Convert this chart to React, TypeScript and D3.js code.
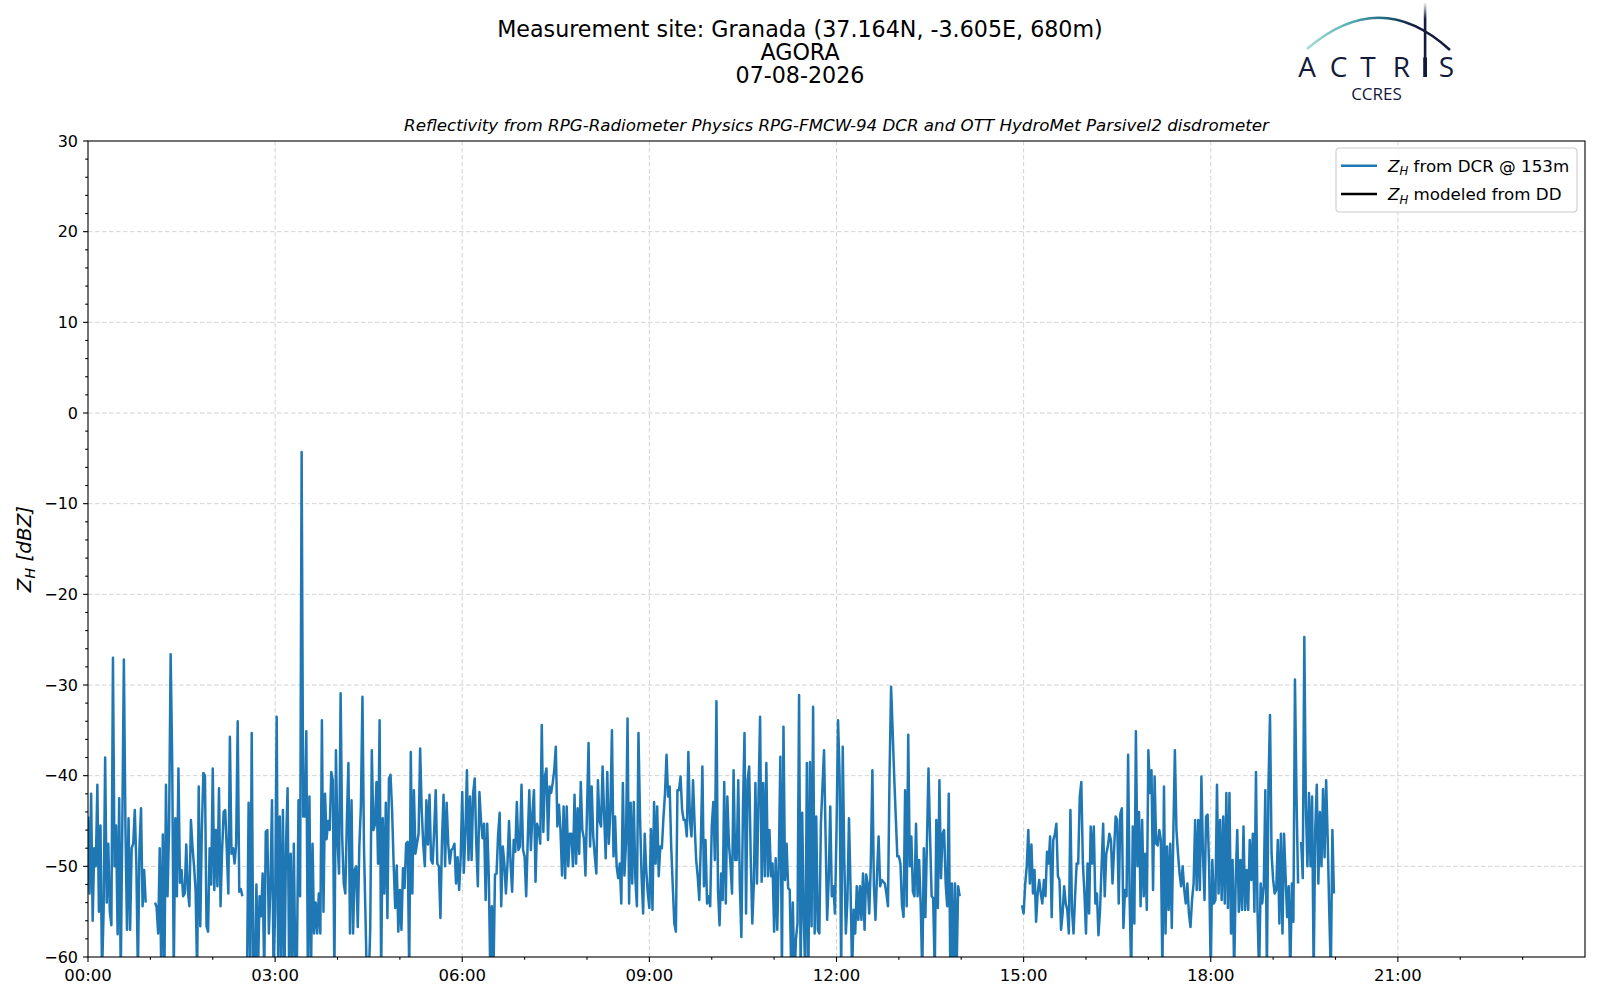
import * as d3 from "d3";
import { useEffect, useRef } from "react";

// DCR reflectivity at 153 m, one value every 90 s, null = no data
const STEP_SEC = 90;
const DAY = "2026-08-07";

const zh00to04 = [
  // 00h
  -44.5, -53, -42, -56, -48, -50, -41, -55, -45.5, -62, -55, -38, -54, -47.5, -55, -56.5, -27, -50, -45.5, -57.5,
  -42.5, -62, -45.5, -27.2, -45.5, -57, -44.7, -57, -48, -47.5, -43.8, -49.7, -62, -48, -43.6, -54.4, -50.4, -54, null, null,
  // 01h
  null, null, null, -54, -54.5, -57.4, -48, -62, -46.5, -62, -41, -53.3, -45.6, -26.6, -38.5, -62, -44.7, -53.3, -39.2, -51.8,
  -50.4, -53.3, -53, -47.6, -52.6, -54.4, -44.9, -47.8, -50, -52.6, -62, -41.2, -56.6, -46, -39.7, -40, -56.6, -57.2, -48, -52,
  // 02h
  -39.2, -52.6, -46, -52.2, -41.4, -54.4, -48.2, -44, -43.8, -48.2, -53, -35.7, -48.6, -48, -49.7, -47.5, -34, -52.8, -52.5, -53.3,
  null, null, -62, -43, -62, -35.3, -62, -62, -52, -62, -53.3, -55.5, -50.8, -62, -46.2, -46, -57.4, -52, -42.7, -62,
  // 03h
  -54.8, -33.5, -62, -44.5, -62, -43.8, -62, -47.5, -41.4, -62, -48.6, -62, -47.5, -62, -60, -42.7, -53.3, -4.3, -44.5, -44.5,
  -35.1, -62, -42.3, -62, -47.5, -57.4, -54, -57.4, -53, -57.4, -33.9, -55, -42, -47, -45, -46, -39.6, -40.5, -62, -37.2,
];

const zh04to08 = [
  // 04h
  -47.1, -50.8, -30.9, -46.7, -51.9, -53, -45, -38.6, -57.4, -42.7, -57.4, -50.4, -50, -56.7, -47.8, -43.4, -31.3, -48, -55.9, -64,
  -63, -56.8, -37.2, -46, -45.4, -40.7, -49.7, -33.9, -62, -44.7, -53, -43, -55.7, -40.3, -39.9, -43.8, -49.7, -54.6, -49.9, -57.2,
  // 05h
  -52.6, -57, -50.2, -52.4, -47.5, -47.3, -62, -37.4, -53, -41.6, -48.6, -47.5, -46.4, -37, -43.8, -47.6, -50, -42.7, -47.6, -42.1,
  -49.3, -49.7, -46, -41.6, -49.7, -50, -55.7, -47.1, -42.1, -50, -43, -47.5, -49.7, -48.2, -48, -47.5, -51.9, -49, -52.6, -49,
  // 06h
  -41.8, -50.7, -46.4, -39.4, -49.3, -42.3, -49.3, -41.9, -40.3, -47.5, -52.2, -41.8, -44.9, -46.9, -45.3, -53.7, -45.3, -51, -62, -54.4,
  -62, -50.9, -50.8, -46.5, -44.1, -54.4, -47.8, -49.7, -53, -49.7, -45, -49.7, -52.8, -47.1, -48.4, -42.9, -48.2, -47.8, -41, -48.2,
  // 07h
  -48.9, -53.3, -47.1, -41.6, -48.2, -44.2, -41.6, -51.7, -45.3, -46, -47.5, -34.4, -46.2, -40.1, -39.2, -47.1, -41.2, -41.9, -40.8, -39.4,
  -36.8, -45.6, -43.2, -46, -51, -43.4, -51.3, -43.4, -50, -46.4, -46.4, -50, -42.1, -49.7, -43.6, -48.6, -40.7, -46, -46.9, -51,
];

const zh08to12 = [
  // 08h
  -43.9, -36.4, -47.8, -41.2, -46.7, -48.9, -50.8, -40.5, -45, -45.6, -39, -44.4, -49.1, -39.6, -47.5, -43.9, -35, -48.9, -44.5, -50,
  -51.3, -49.7, -54.1, -40.8, -51, -47.5, -33.7, -54.1, -43, -51.9, -42.9, -51.3, -54.4, -35.3, -44.5, -51.1, -55.2, -46.4, -50.4, -53,
  // 09h
  -54.6, -45.9, -54.8, -42.9, -49.7, -43.4, -51.1, -47.8, -48, -44.7, -42, -37.7, -42.3, -41.2, -47.8, -52.2, -56.3, -57.2, -41.6, -41.6,
  -40.1, -43.8, -44.9, -44.9, -46.7, -37.4, -44.9, -46.7, -40.5, -45.3, -49.3, -51.1, -53.7, -47.5, -39, -52.2, -47.1, -54.1, -53.3, -54.4,
  // 10h
  -45.6, -42.9, -49.3, -31.8, -52.6, -56.5, -50.8, -53.7, -40.7, -54.1, -42.3, -47.5, -49.7, -53, -39.4, -49.3, -49.3, -40.5, -52, -57.8,
  -43.8, -35.3, -55.2, -40.5, -39, -49.1, -56.3, -51.9, -40.8, -51.9, -42.3, -33.5, -51.7, -40.8, -51.1, -38.6, -51.1, -46, -51.1, -49.7,
  // 11h
  -57.2, -49.1, -57, -49.3, -37.9, -62, -34.6, -51.5, -47.5, -52.4, -52.6, -62, -54, -63, -58, -56.3, -31.1, -62, -44.1, -55.9,
  -62, -38.6, -62, -38.5, -56.6, -32.4, -57.4, -44.5, -57, -57.4, -45.3, -41.2, -37.2, -46.7, -55.9, -51.5, -43.4, -53.3, -52.2, -55.2,
];

const zh12to14 = [
  // 12h
  -46.1, -33.9, -40.1, -62, -36.8, -49.3, -57.4, -53.7, -44.7, -52.2, -62, -54.8, -57.4, -52.2, -55.9, -52.2, -55.9, -50.8, -57, -50.9,
  -51.9, -55.2, -49.7, -39.4, -52.2, -55.9, -50.8, -46.7, -52.2, -51.5, -51.7, -51.9, -53, -54.4, -40.1, -30.2, -35, -40.1, -44.5, -48.9,
  // 13h
  -48.9, -49.7, -54.3, -55.6, -41.6, -54.4, -35.5, -50, -46.7, -52.8, -53.3, -45.3, -53.3, -49.3, -54.3, -62, -48, -55.6, -47.3, -39.2,
  -46.7, -53.3, -53.5, -62, -44.9, -54.6, -40.5, -51.3, -46.4, -46, -51.9, -54.4, -42, -62, -51.9, -62, -51.9, -62, -52.2, -53.3,
];

const zh15to20 = [
  -54.3,
  // 15h
  -55.2, -52, -50, -46, -51.9, -47.6, -53, -50.4, -56.1, -53, -51.5, -53, -54.1, -51.5, -53.3, -48.4, -49.7, -46.7, -55.6, -47.1,
  -46.5, -45.3, -51.1, -51.5, -57, -55.2, -52.2, -54.1, -54.8, -57.4, -43.8, -54.8, -57.4, -53.3, -49.7, -49.7, -42.3, -40.7, -49.7, -53,
  // 16h
  -57.4, -49.7, -55.2, -45.6, -49.7, -45.6, -54.1, -53, -57.6, -54.8, -50, -45.3, -53.3, -48.6, -47.8, -46.4, -47.1, -51.9, -48.2, -44.5,
  -44.9, -54.1, -44.2, -43.6, -56.8, -52.6, -53.3, -37.7, -53.7, -62, -45.6, -56.3, -35.1, -50, -44, -54.4, -44.9, -53.3, -48.6, -54.8,
  // 17h
  -37.2, -41.9, -39.4, -52.6, -40.1, -47.5, -47.7, -46, -47.1, -62, -41.2, -57.4, -47.8, -54.8, -47.5, -56.8, -46.4, -37.2, -46, -48.6,
  -50.8, -52.2, -50, -52.6, -54.1, -51.9, -55.2, -56.7, -53.7, -51.9, -44.9, -52.6, -44.9, -52.6, -40.1, -48.6, -53.7, -44.5, -44.3, -50.4,
  // 18h
  -62, -49.3, -54.1, -53.7, -41, -53, -44.9, -53.7, -44.5, -54.1, -41.9, -54.6, -41.9, -57.4, -49.3, -62, -51.5, -46, -55, -49.3,
  -54.8, -45.6, -54.8, -50.4, -54.8, -47.1, -51.5, -46.4, -55, -39.6, -55, -62, -51.9, -54.1, -52.2, -41.6, -62, -41.2, -33.3, -48.6,
  // 19h
  -51.5, -53, -52.6, -47.1, -56.3, -46.4, -57.4, -46.4, -51.1, -55.6, -52.2, -62, -51.9, -56.1, -29.4, -42.3, -51.9, null, -47.3, -51.3,
  -24.7, -43.4, -50, -41.9, -50, -42.3, -62, -46, -41, -51.9, -44, -50, -41.5, -49, -40.5, -47, -55, -62, -46, -53,
];

const blocks = [
  { start: "00:00:00", values: zh00to04 },
  { start: "04:00:00", values: zh04to08 },
  { start: "08:00:00", values: zh08to12 },
  { start: "12:00:00", values: zh12to14 },
  { start: "14:58:30", values: zh15to20 },
];

const yMajor = [-60, -50, -40, -30, -20, -10, 0, 10, 20, 30];
const xMajorHours = [0, 3, 6, 9, 12, 15, 18, 21];

const titleLines = ["Measurement site: Granada (37.164N, -3.605E, 680m)", "AGORA", "07-08-2026"];
const subtitle = "Reflectivity from RPG-Radiometer Physics RPG-FMCW-94 DCR and OTT HydroMet Parsivel2 disdrometer";
const legendItems = [
  { color: "#1f77b4", rest: " from DCR @ 153m" },
  { color: "#000000", rest: " modeled from DD" },
];

const W = 1600, H = 1000;
const left = 88, right = 1585, top = 141, bottom = 957;
const FONT = "DejaVu Sans, sans-serif";
const LOGO = "#141a3c";

const App = () => {
  const ref: any = useRef();

  useEffect(() => {
    const svg = d3.select(ref.current);
    svg.selectAll("*").remove();

    const day0 = new Date(`${DAY}T00:00:00Z`);
    const day1 = d3.utcDay.offset(day0, 1);
    const x = d3.scaleUtc().domain([day0, day1]).range([left, right]);
    const y = d3.scaleLinear().domain([-60, 30]).range([bottom, top]);

    // flatten blocks into one series, breaking the line at data gaps
    const points: any[] = [];
    let lastT = -Infinity;
    blocks.forEach((b) => {
      const t0 = new Date(`${DAY}T${b.start}Z`).getTime();
      if (t0 - lastT > STEP_SEC * 1000 * 1.5 && points.length) points.push({ t: new Date(lastT + 1), v: null });
      b.values.forEach((v, i) => {
        const t = t0 + i * STEP_SEC * 1000;
        points.push({ t: new Date(t), v });
        lastT = t;
      });
    });

    const defs = svg.append("defs");
    defs.append("clipPath").attr("id", "plotclip")
      .append("rect").attr("x", left).attr("y", top).attr("width", right - left).attr("height", bottom - top);

    svg.append("rect").attr("width", W).attr("height", H).attr("fill", "#fff");

    // grid
    const grid = svg.append("g").attr("stroke", "#d3d3d3").attr("stroke-width", 1).attr("stroke-dasharray", "4.5,2.5");
    yMajor.forEach((v) => {
      if (v === 30 || v === -60) return;
      grid.append("line").attr("x1", left).attr("x2", right).attr("y1", y(v)).attr("y2", y(v));
    });
    xMajorHours.forEach((h) => {
      if (h === 0) return;
      const px = x(d3.utcHour.offset(day0, h));
      grid.append("line").attr("x1", px).attr("x2", px).attr("y1", top).attr("y2", bottom);
    });

    // series
    const line = d3.line<any>()
      .defined((d) => d.v != null)
      .x((d) => x(d.t))
      .y((d) => y(d.v));
    svg.append("path")
      .datum(points)
      .attr("clip-path", "url(#plotclip)")
      .attr("fill", "none")
      .attr("stroke", "#1f77b4")
      .attr("stroke-width", 2.5)
      .attr("stroke-linejoin", "round")
      .attr("d", line);

    // frame
    svg.append("rect").attr("x", left).attr("y", top).attr("width", right - left).attr("height", bottom - top)
      .attr("fill", "none").attr("stroke", "#000").attr("stroke-width", 1.1);

    // y axis ticks
    const yAxis = svg.append("g").attr("font-family", FONT).attr("font-size", 16);
    d3.range(-60, 31, 2).forEach((v) => {
      const major = v % 10 === 0;
      yAxis.append("line").attr("x1", left).attr("x2", left - (major ? 4.9 : 2.8))
        .attr("y1", y(v)).attr("y2", y(v)).attr("stroke", "#000").attr("stroke-width", 1.1);
    });
    yMajor.forEach((v) => {
      yAxis.append("text").attr("x", left - 10).attr("y", y(v)).attr("dy", "0.36em")
        .attr("text-anchor", "end").text(d3.format("d")(v));
    });

    // x axis ticks
    const xAxis = svg.append("g").attr("font-family", FONT).attr("font-size", 16.5);
    const fmt = d3.utcFormat("%H:%M");
    d3.range(0, 24).forEach((h) => {
      const px = x(d3.utcHour.offset(day0, h));
      const major = h % 3 === 0;
      xAxis.append("line").attr("x1", px).attr("x2", px).attr("y1", bottom).attr("y2", bottom + (major ? 4.9 : 2.8))
        .attr("stroke", "#000").attr("stroke-width", 1.1);
    });
    xMajorHours.forEach((h) => {
      const d = d3.utcHour.offset(day0, h);
      xAxis.append("text").attr("x", x(d)).attr("y", 980.5).attr("text-anchor", "middle").text(fmt(d));
    });

    // y label
    const yl = svg.append("text").attr("transform", `translate(31,${(top + bottom) / 2}) rotate(-90)`)
      .attr("text-anchor", "middle").attr("font-family", FONT).attr("font-size", 20).attr("font-style", "italic");
    yl.append("tspan").text("Z");
    yl.append("tspan").attr("font-size", 14).attr("dy", 4).text("H");
    yl.append("tspan").attr("dy", -4).text(" [dBZ]");

    // titles
    titleLines.forEach((t, i) => {
      svg.append("text").attr("x", 800).attr("y", 36.5 + i * 23.2).attr("text-anchor", "middle")
        .attr("font-family", FONT).attr("font-size", 22.2).text(t);
    });
    svg.append("text").attr("x", (left + right) / 2).attr("y", 131).attr("text-anchor", "middle")
      .attr("font-family", FONT).attr("font-size", 16.7).attr("font-style", "italic").text(subtitle);

    // legend
    const lg = svg.append("g").attr("font-family", FONT).attr("font-size", 16.7);
    lg.append("rect").attr("x", 1336).attr("y", 148).attr("width", 241).attr("height", 64).attr("rx", 3.5)
      .attr("fill", "#fff").attr("fill-opacity", 0.8).attr("stroke", "#cccccc").attr("stroke-width", 1.1);
    legendItems.forEach((it, i) => {
      const cy = 165.7 + i * 28.4;
      lg.append("line").attr("x1", 1341).attr("x2", 1377).attr("y1", cy).attr("y2", cy)
        .attr("stroke", it.color).attr("stroke-width", 2.5);
      const tx = lg.append("text").attr("x", 1388).attr("y", cy + 6);
      tx.append("tspan").attr("font-style", "italic").text("Z");
      tx.append("tspan").attr("font-style", "italic").attr("font-size", 11.7).attr("dy", 3.5).text("H");
      tx.append("tspan").attr("dy", -3.5).text(it.rest);
    });

    // ACTRIS / CCRES logo
    const arcGrad = defs.append("linearGradient").attr("id", "arcgrad").attr("x1", "0%").attr("x2", "100%");
    [["0%", "#a8ddd6"], ["30%", "#52b0b0"], ["55%", "#1e6680"], ["75%", LOGO], ["100%", LOGO]]
      .forEach(([o, c]) => arcGrad.append("stop").attr("offset", o).attr("stop-color", c));
    const barGrad = defs.append("linearGradient").attr("id", "bargrad")
      .attr("x1", "0%").attr("x2", "0%").attr("y1", "0%").attr("y2", "100%");
    [["0%", "#ffffff"], ["30%", LOGO], ["100%", LOGO]]
      .forEach(([o, c]) => barGrad.append("stop").attr("offset", o).attr("stop-color", c));
    const logo = svg.append("g");
    logo.append("path").attr("d", "M1307,49 Q1380,-14 1450,50").attr("fill", "none")
      .attr("stroke", "url(#arcgrad)").attr("stroke-width", 2.6);
    // the stem of the "I" runs up through the arc
    logo.append("rect").attr("x", 1423.8).attr("y", 2).attr("width", 2.6).attr("height", 57).attr("fill", "url(#bargrad)");
    logo.append("rect").attr("x", 1423.2).attr("y", 57.5).attr("width", 3.8).attr("height", 19.5).attr("fill", LOGO);
    const letters = [["A", 1307], ["C", 1338.5], ["T", 1368], ["R", 1401.5], ["S", 1446.5]];
    letters.forEach(([ch, lx]) => {
      logo.append("text").attr("x", lx).attr("y", 77).attr("text-anchor", "middle")
        .attr("font-family", "Open Sans, sans-serif").attr("font-weight", 500).attr("font-size", 28)
        .attr("fill", LOGO).text(ch as string);
    });
    logo.append("text").attr("x", 1376.5).attr("y", 100).attr("text-anchor", "middle")
      .attr("font-family", "Open Sans, sans-serif").attr("font-size", 17).attr("fill", LOGO).text("CCRES");
  }, []);

  return (
    <svg ref={ref} width={W} height={H} viewBox={`0 0 ${W} ${H}`}
      style={{ position: "absolute", left: 0, top: 0, display: "block" }} />
  );
};

export default App;
